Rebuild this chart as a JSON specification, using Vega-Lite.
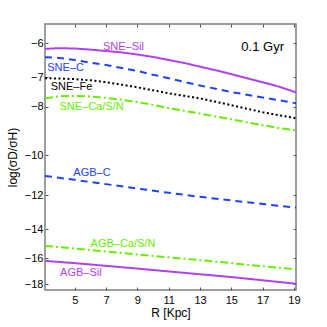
{
  "$schema": "https://vega.github.io/schema/vega-lite/v6.json",
  "width": 251,
  "height": 266,
  "autosize": {"type": "none"},
  "padding": {"left": 45, "top": 24, "right": 31, "bottom": 37},
  "background": "white",
  "config": {
    "font": "Liberation Sans",
    "view": {"stroke": "#7f7f7f", "strokeWidth": 1.5},
    "axis": {"grid": false, "domain": false, "tickColor": "#555555", "labelColor": "black", "titleColor": "black", "titleFontWeight": "normal", "labelFontSize": 11, "titleFontSize": 12, "labelFont": "Liberation Sans", "titleFont": "Liberation Sans"}
  },
  "datasets": {
    "lines": [
      {"series": "SNE-Sil", "R": 3.1, "v": -6.15}, {"series": "SNE-Sil", "R": 4, "v": -6.13}, {"series": "SNE-Sil", "R": 5, "v": -6.14}, {"series": "SNE-Sil", "R": 6, "v": -6.17}, {"series": "SNE-Sil", "R": 7, "v": -6.21}, {"series": "SNE-Sil", "R": 8, "v": -6.25}, {"series": "SNE-Sil", "R": 9, "v": -6.31}, {"series": "SNE-Sil", "R": 10, "v": -6.38}, {"series": "SNE-Sil", "R": 11, "v": -6.47}, {"series": "SNE-Sil", "R": 12, "v": -6.56}, {"series": "SNE-Sil", "R": 13, "v": -6.67}, {"series": "SNE-Sil", "R": 14, "v": -6.78}, {"series": "SNE-Sil", "R": 15, "v": -6.9}, {"series": "SNE-Sil", "R": 16, "v": -7.03}, {"series": "SNE-Sil", "R": 17, "v": -7.16}, {"series": "SNE-Sil", "R": 18, "v": -7.3}, {"series": "SNE-Sil", "R": 19.13, "v": -7.5},
      {"series": "SNE-C", "R": 3.1, "v": -6.39}, {"series": "SNE-C", "R": 4, "v": -6.41}, {"series": "SNE-C", "R": 5, "v": -6.47}, {"series": "SNE-C", "R": 6, "v": -6.55}, {"series": "SNE-C", "R": 7, "v": -6.62}, {"series": "SNE-C", "R": 8, "v": -6.71}, {"series": "SNE-C", "R": 9, "v": -6.8}, {"series": "SNE-C", "R": 10, "v": -6.92}, {"series": "SNE-C", "R": 11, "v": -7.03}, {"series": "SNE-C", "R": 12, "v": -7.15}, {"series": "SNE-C", "R": 13, "v": -7.27}, {"series": "SNE-C", "R": 14, "v": -7.38}, {"series": "SNE-C", "R": 15, "v": -7.49}, {"series": "SNE-C", "R": 16, "v": -7.58}, {"series": "SNE-C", "R": 17, "v": -7.68}, {"series": "SNE-C", "R": 18, "v": -7.77}, {"series": "SNE-C", "R": 19.13, "v": -7.88},
      {"series": "SNE-Fe", "R": 3.1, "v": -7.03}, {"series": "SNE-Fe", "R": 4, "v": -7.04}, {"series": "SNE-Fe", "R": 5, "v": -7.06}, {"series": "SNE-Fe", "R": 6, "v": -7.1}, {"series": "SNE-Fe", "R": 7, "v": -7.16}, {"series": "SNE-Fe", "R": 8, "v": -7.24}, {"series": "SNE-Fe", "R": 9, "v": -7.33}, {"series": "SNE-Fe", "R": 10, "v": -7.43}, {"series": "SNE-Fe", "R": 11, "v": -7.53}, {"series": "SNE-Fe", "R": 12, "v": -7.62}, {"series": "SNE-Fe", "R": 13, "v": -7.71}, {"series": "SNE-Fe", "R": 14, "v": -7.83}, {"series": "SNE-Fe", "R": 15, "v": -7.95}, {"series": "SNE-Fe", "R": 16, "v": -8.08}, {"series": "SNE-Fe", "R": 17, "v": -8.21}, {"series": "SNE-Fe", "R": 18, "v": -8.32}, {"series": "SNE-Fe", "R": 19.13, "v": -8.44},
      {"series": "SNE-Ca/S/N", "R": 3.1, "v": -7.7}, {"series": "SNE-Ca/S/N", "R": 4, "v": -7.64}, {"series": "SNE-Ca/S/N", "R": 5, "v": -7.62}, {"series": "SNE-Ca/S/N", "R": 6, "v": -7.64}, {"series": "SNE-Ca/S/N", "R": 7, "v": -7.69}, {"series": "SNE-Ca/S/N", "R": 8, "v": -7.76}, {"series": "SNE-Ca/S/N", "R": 9, "v": -7.84}, {"series": "SNE-Ca/S/N", "R": 10, "v": -7.94}, {"series": "SNE-Ca/S/N", "R": 11, "v": -8.06}, {"series": "SNE-Ca/S/N", "R": 12, "v": -8.16}, {"series": "SNE-Ca/S/N", "R": 13, "v": -8.26}, {"series": "SNE-Ca/S/N", "R": 14, "v": -8.37}, {"series": "SNE-Ca/S/N", "R": 15, "v": -8.48}, {"series": "SNE-Ca/S/N", "R": 16, "v": -8.6}, {"series": "SNE-Ca/S/N", "R": 17, "v": -8.71}, {"series": "SNE-Ca/S/N", "R": 18, "v": -8.82}, {"series": "SNE-Ca/S/N", "R": 19.13, "v": -8.92},
      {"series": "AGB-C", "R": 3.1, "v": -10.98}, {"series": "AGB-C", "R": 5, "v": -11.18}, {"series": "AGB-C", "R": 7, "v": -11.4}, {"series": "AGB-C", "R": 9, "v": -11.63}, {"series": "AGB-C", "R": 11, "v": -11.86}, {"series": "AGB-C", "R": 13, "v": -12.08}, {"series": "AGB-C", "R": 15, "v": -12.28}, {"series": "AGB-C", "R": 17, "v": -12.48}, {"series": "AGB-C", "R": 19.13, "v": -12.69},
      {"series": "AGB-Ca/S/N", "R": 3.1, "v": -15.11}, {"series": "AGB-Ca/S/N", "R": 5, "v": -15.3}, {"series": "AGB-Ca/S/N", "R": 7, "v": -15.5}, {"series": "AGB-Ca/S/N", "R": 9, "v": -15.71}, {"series": "AGB-Ca/S/N", "R": 11, "v": -15.92}, {"series": "AGB-Ca/S/N", "R": 13, "v": -16.13}, {"series": "AGB-Ca/S/N", "R": 15, "v": -16.35}, {"series": "AGB-Ca/S/N", "R": 17, "v": -16.58}, {"series": "AGB-Ca/S/N", "R": 19.13, "v": -16.81},
      {"series": "AGB-Sil", "R": 3.1, "v": -16.18}, {"series": "AGB-Sil", "R": 5, "v": -16.35}, {"series": "AGB-Sil", "R": 7, "v": -16.55}, {"series": "AGB-Sil", "R": 9, "v": -16.76}, {"series": "AGB-Sil", "R": 11, "v": -16.98}, {"series": "AGB-Sil", "R": 13, "v": -17.2}, {"series": "AGB-Sil", "R": 15, "v": -17.42}, {"series": "AGB-Sil", "R": 17, "v": -17.68}, {"series": "AGB-Sil", "R": 19.13, "v": -17.96}
    ],
    "labels": [
      {"series": "SNE-Sil", "label": "SNE–Sil", "R": 8.11, "v": -6.09},
      {"series": "SNE-C", "label": "SNE–C", "R": 4.41, "v": -6.72},
      {"series": "SNE-Fe", "label": "SNE–Fe", "R": 4.79, "v": -7.31},
      {"series": "SNE-Ca/S/N", "label": "SNE–Ca/S/N", "R": 6.07, "v": -8.0},
      {"series": "AGB-C", "label": "AGB–C", "R": 6.1, "v": -10.85},
      {"series": "AGB-Ca/S/N", "label": "AGB–Ca/S/N", "R": 8.08, "v": -14.98},
      {"series": "AGB-Sil", "label": "AGB–Sil", "R": 5.39, "v": -17.07}
    ],
    "note": [
      {"label": "0.1 Gyr", "R": 17.0, "v": -6.09}
    ]
  },
  "layer": [
    {
      "data": {"name": "lines"},
      "mark": {"type": "line", "strokeWidth": 2, "clip": true},
      "encoding": {
        "x": {"field": "R", "type": "quantitative", "scale": {"domain": [3.1, 19.13], "nice": false, "zero": false},
              "axis": {"orient": "bottom", "values": [5, 7, 9, 11, 13, 15, 17, 19], "tickSize": -3, "labelPadding": 7, "title": "R [Kpc]", "titlePadding": 2}},
        "y": {"field": "v", "type": "quantitative", "scale": {"type": "log", "domain": [-18.48, -5.49], "nice": false, "zero": false},
              "axis": {"orient": "left", "values": [-18, -16, -14, -12, -10, -8, -7, -6], "format": "d", "tickSize": -3, "labelPadding": 5, "title": "log(σD/σH)", "titlePadding": 5}},
        "color": {"field": "series", "type": "nominal", "legend": null,
                  "scale": {"domain": ["SNE-Sil", "SNE-C", "SNE-Fe", "SNE-Ca/S/N", "AGB-C", "AGB-Ca/S/N", "AGB-Sil"],
                            "range": ["#b040f0", "#2040ff", "#000000", "#66ee00", "#2040ff", "#66ee00", "#b040f0"]}},
        "strokeDash": {"field": "series", "type": "nominal", "legend": null,
                       "scale": {"domain": ["SNE-Sil", "SNE-C", "SNE-Fe", "SNE-Ca/S/N", "AGB-C", "AGB-Ca/S/N", "AGB-Sil"],
                                 "range": [[1, 0], [7, 5], [2, 2.5], [8, 3, 2, 3], [7, 5], [8, 3, 2, 3], [1, 0]]}}
      }
    },
    {
      "data": {"name": "labels"},
      "mark": {"type": "text", "fontSize": 11, "align": "center", "baseline": "middle", "font": "Liberation Sans"},
      "encoding": {
        "x": {"field": "R", "type": "quantitative", "axis": {"orient": "top", "values": [5, 7, 9, 11, 13, 15, 17, 19], "tickSize": -3, "labels": false, "title": null}},
        "y": {"field": "v", "type": "quantitative", "axis": {"orient": "right", "values": [-18, -16, -14, -12, -10, -8, -7, -6], "tickSize": -3, "labels": false, "title": null}},
        "text": {"field": "label"},
        "color": {"field": "series", "type": "nominal", "legend": null}
      }
    },
    {
      "data": {"name": "note"},
      "mark": {"type": "text", "fontSize": 13, "align": "center", "baseline": "middle", "color": "black", "font": "Liberation Sans"},
      "encoding": {
        "x": {"field": "R", "type": "quantitative", "axis": null},
        "y": {"field": "v", "type": "quantitative", "axis": null},
        "text": {"field": "label"}
      }
    }
  ],
  "resolve": {"axis": {"x": "independent", "y": "independent"}}
}
